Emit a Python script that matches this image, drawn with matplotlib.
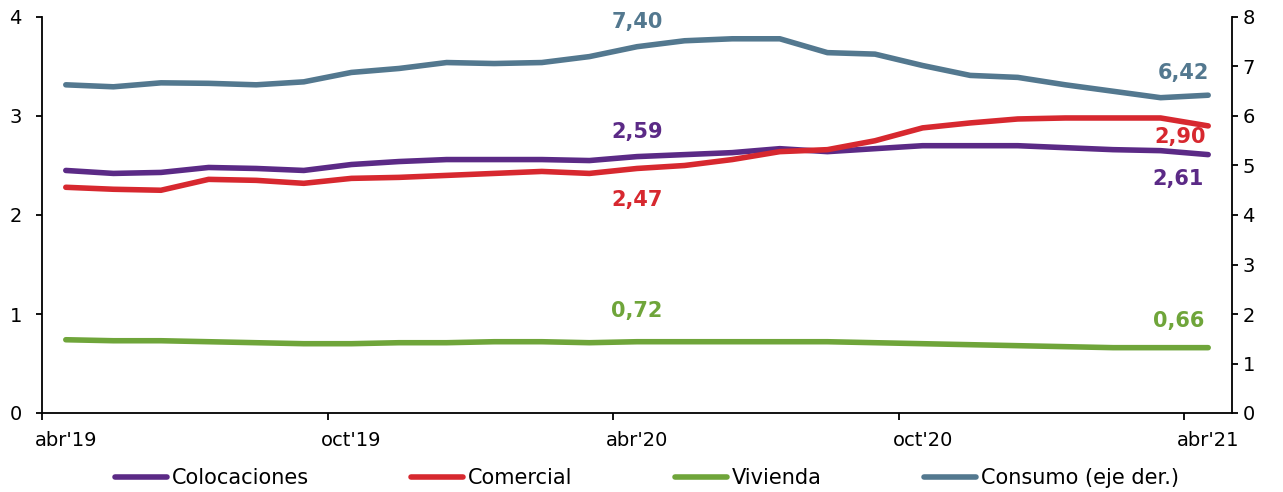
import matplotlib
matplotlib.use('Agg')
import matplotlib.pyplot as plt

# Meses abr'19 .. abr'21 (25 puntos)
meses = ["abr'19", "may'19", "jun'19", "jul'19", "ago'19", "sep'19", "oct'19",
         "nov'19", "dic'19", "ene'20", "feb'20", "mar'20", "abr'20", "may'20",
         "jun'20", "jul'20", "ago'20", "sep'20", "oct'20", "nov'20", "dic'20",
         "ene'21", "feb'21", "mar'21", "abr'21"]

colocaciones = [2.45, 2.42, 2.43, 2.48, 2.47, 2.45, 2.51, 2.54, 2.56, 2.56, 2.56, 2.55, 2.59,
                2.61, 2.63, 2.67, 2.64, 2.67, 2.70, 2.70, 2.70, 2.68, 2.66, 2.65, 2.61]
comercial = [2.28, 2.26, 2.25, 2.36, 2.35, 2.32, 2.37, 2.38, 2.40, 2.42, 2.44, 2.42, 2.47,
             2.50, 2.56, 2.64, 2.66, 2.75, 2.88, 2.93, 2.97, 2.98, 2.98, 2.98, 2.90]
vivienda = [0.74, 0.73, 0.73, 0.72, 0.71, 0.70, 0.70, 0.71, 0.71, 0.72, 0.72, 0.71, 0.72,
            0.72, 0.72, 0.72, 0.72, 0.71, 0.70, 0.69, 0.68, 0.67, 0.66, 0.66, 0.66]
consumo = [6.63, 6.59, 6.67, 6.66, 6.63, 6.69, 6.88, 6.96, 7.08, 7.06, 7.08, 7.20, 7.40,
           7.52, 7.56, 7.56, 7.28, 7.25, 7.02, 6.82, 6.78, 6.63, 6.50, 6.37, 6.42]

tick_labels = ["abr'19", "oct'19", "abr'20", "oct'20", "abr'21"]

C_COLOC = '#5B2A86'
C_COM = '#D7282F'
C_VIV = '#6FA53A'
C_CONS = '#53788F'

plt.rcParams['font.family'] = ['DejaVu Sans']

fig = plt.figure(figsize=(12.83, 4.92), dpi=100)
ax = fig.add_axes([42 / 1283, 79 / 492, 1190 / 1283, 396 / 492])
ax2 = ax.twinx()

x = list(range(len(meses)))
lw = 4
l1, = ax.plot(x, colocaciones, color=C_COLOC, lw=lw, solid_capstyle='round', solid_joinstyle='round', label='Colocaciones')
l2, = ax.plot(x, comercial, color=C_COM, lw=lw, solid_capstyle='round', solid_joinstyle='round', label='Comercial')
l3, = ax.plot(x, vivienda, color=C_VIV, lw=lw, solid_capstyle='round', solid_joinstyle='round', label='Vivienda')
l4, = ax2.plot(x, consumo, color=C_CONS, lw=lw, solid_capstyle='round', solid_joinstyle='round', label='Consumo (eje der.)')

ax.set_xlim(-0.5, len(meses) - 0.5)
ax.set_ylim(0, 4)
ax2.set_ylim(0, 8)
ax.set_yticks(range(0, 5))
ax2.set_yticks(range(0, 9))

# ticks entre categorías, etiquetas centradas en el mes
pos = [meses.index(t) for t in tick_labels]
ax.set_xticks([p - 0.5 for p in pos])
ax.set_xticklabels([])
ax.set_xticks(pos, minor=True)
ax.set_xticklabels(tick_labels, minor=True)
ax.tick_params(axis='x', which='minor', length=0, pad=13, labelsize=14)
ax.tick_params(axis='x', which='major', length=5, width=1.3, direction='out')
ax.tick_params(axis='y', length=4.5, width=1.3, pad=10, labelsize=14)
ax2.tick_params(axis='y', length=4.5, width=1.3, pad=3, labelsize=14)

for a in (ax, ax2):
    a.spines['top'].set_visible(False)
    for s in ('left', 'right', 'bottom'):
        a.spines[s].set_linewidth(1.3)
        a.spines[s].set_color('black')
ax.spines['right'].set_visible(False)
ax2.spines['left'].set_visible(False)
ax2.spines['bottom'].set_visible(False)


def fmt(v):
    return f"{v:.2f}".replace('.', ',')


i_mid = meses.index("abr'20")
i_end = len(meses) - 1
lbl = dict(fontsize=15, fontweight='bold', ha='center', va='center', textcoords='offset points')

ax2.annotate(fmt(consumo[i_mid]), (i_mid, consumo[i_mid]), xytext=(0, 18), color=C_CONS, **lbl)
ax.annotate(fmt(colocaciones[i_mid]), (i_mid, colocaciones[i_mid]), xytext=(0, 18), color=C_COLOC, **lbl)
ax.annotate(fmt(comercial[i_mid]), (i_mid, comercial[i_mid]), xytext=(0, -23), color=C_COM, **lbl)
ax.annotate(fmt(vivienda[i_mid]), (i_mid, vivienda[i_mid]), xytext=(0, 22), color=C_VIV, **lbl)

ax2.annotate(fmt(consumo[i_end]), (i_end, consumo[i_end]), xytext=(-18, 16), color=C_CONS, **lbl)
ax.annotate(fmt(comercial[i_end]), (i_end, comercial[i_end]), xytext=(-20, -8), color=C_COM, **lbl)
ax.annotate(fmt(colocaciones[i_end]), (i_end, colocaciones[i_end]), xytext=(-22, -17.5), color=C_COLOC, **lbl)
ax.annotate(fmt(vivienda[i_end]), (i_end, vivienda[i_end]), xytext=(-21, 19), color=C_VIV, **lbl)

fig.legend(handles=[l1, l2, l3, l4], loc='center', bbox_to_anchor=(647 / 1283, 1 - 478 / 492),
           ncol=4, frameon=False, fontsize=15, handlelength=2.5, handletextpad=0.25,
           columnspacing=4.9, borderaxespad=0)

fig.savefig('out.png', dpi=100)
plt.close(fig)
